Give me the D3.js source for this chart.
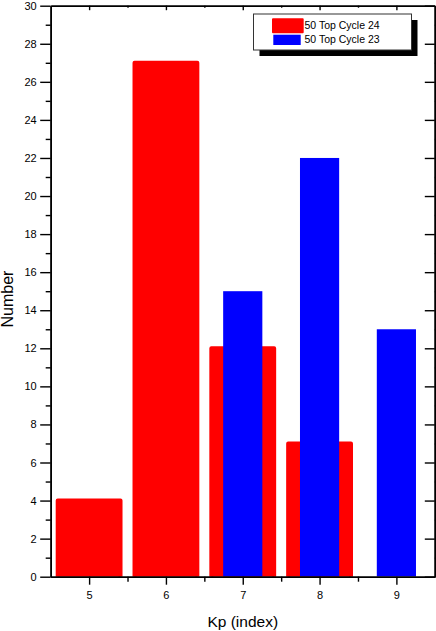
<!DOCTYPE html>
<html>
<head>
<meta charset="utf-8">
<script src="https://cdn.jsdelivr.net/npm/d3@7"></script>
<style>
  body { margin: 0; background: #fff; }
  text { font-family: "Liberation Sans", Arial, sans-serif; fill: #000; }
</style>
</head>
<body>
<svg id="chart"></svg>
<script>
// Kp index categories and counts
const kpValues = [5, 6, 7, 8, 9];
const cycle24Kp = [5, 6, 7, 8];
const cycle24Count = [4, 27, 12, 7];
const cycle23Kp = [7, 8, 9];
const cycle23Count = [15, 22, 13];
const yTicks = d3.range(0, 31, 2);
const yMinorTicks = d3.range(1, 30, 2);
const xMinorTicks = [5.5, 6.5, 7.5, 8.5];
const legendLabels = ["50 Top Cycle 24", "50 Top Cycle 23"];

const totalWidth = 436, totalHeight = 631;
const margin = { top: 5.7, right: 1.2, bottom: 54.3, left: 50.7 },
      width = totalWidth - margin.left - margin.right,
      height = totalHeight - margin.top - margin.bottom;

const svg = d3.select("#chart")
    .attr("width", totalWidth)
    .attr("height", totalHeight);

const chart = svg.append("g")
    .attr("transform", `translate(${margin.left}, ${margin.top})`);

const x = d3.scaleLinear().domain([4.5, 9.5]).range([0, width]);
const y = d3.scaleLinear().domain([0, 30]).range([height, 0]);

svg.append("defs").append("clipPath").attr("id", "plot-clip")
    .append("rect").attr("width", width).attr("height", height);

const bars = chart.append("g").attr("clip-path", "url(#plot-clip)");

// Cycle 24 (red, wide, drawn behind)
const redWidth = x(0.87) - x(0);
bars.selectAll(".bar24")
    .data(cycle24Kp.map((k, i) => [k, cycle24Count[i]]))
    .join("rect")
    .attr("class", "bar24")
    .attr("x", d => x(d[0]) - redWidth / 2 + 2)
    .attr("y", d => y(d[1]))
    .attr("width", redWidth - 4)
    .attr("height", d => y(0) - y(d[1]) + 4)
    .attr("fill", "#ff0000")
    .attr("stroke", "#ff0000")
    .attr("stroke-width", 4)
    .attr("stroke-linejoin", "round");

// Cycle 23 (blue, narrow, on top)
const blueWidth = x(0.51) - x(0);
bars.selectAll(".bar23")
    .data(cycle23Kp.map((k, i) => [k, cycle23Count[i]]))
    .join("rect")
    .attr("class", "bar23")
    .attr("x", d => x(d[0]) - blueWidth / 2)
    .attr("y", d => y(d[1]))
    .attr("width", blueWidth)
    .attr("height", d => y(0) - y(d[1]))
    .attr("fill", "#0000ff");

// Axes
function styleAxis(g) {
    g.selectAll("path").attr("stroke", "#000").attr("stroke-width", 1.6);
    g.selectAll("line").attr("stroke", "#000").attr("stroke-width", 1.4);
    g.selectAll("text").style("font-size", "11px")
        .style("font-family", '"Liberation Sans", Arial, sans-serif');
}

// left
chart.append("g")
    .call(d3.axisLeft(y).tickValues(yMinorTicks).tickSize(5).tickSizeOuter(0).tickFormat(""))
    .call(styleAxis);
chart.append("g")
    .call(d3.axisLeft(y).tickValues(yTicks).tickSize(10.5).tickSizeOuter(0).tickPadding(3.5).tickFormat(d3.format("d")))
    .call(styleAxis);

// right (inward ticks)
chart.append("g")
    .attr("transform", `translate(${width}, 0)`)
    .call(d3.axisLeft(y).tickValues(yMinorTicks).tickSize(6).tickSizeOuter(0).tickFormat(""))
    .call(g => g.selectAll("line").attr("x2", -6))
    .call(g => g.selectAll("line").attr("transform", "translate(6,0)"))
    .call(styleAxis);
chart.append("g")
    .attr("transform", `translate(${width}, 0)`)
    .call(d3.axisRight(y).tickValues(yTicks).tickSize(-10).tickSizeOuter(0).tickFormat(""))
    .call(styleAxis);

// bottom
chart.append("g")
    .attr("transform", `translate(0, ${height})`)
    .call(d3.axisBottom(x).tickValues(xMinorTicks).tickSize(5).tickSizeOuter(0).tickFormat(""))
    .call(styleAxis);
chart.append("g")
    .attr("transform", `translate(0, ${height})`)
    .call(d3.axisBottom(x).tickValues(kpValues).tickSize(8).tickSizeOuter(0).tickPadding(7).tickFormat(d3.format("d")))
    .call(styleAxis);

// top (inward ticks)
chart.append("g")
    .call(d3.axisTop(x).tickValues(xMinorTicks).tickSize(-2).tickSizeOuter(0).tickFormat(""))
    .call(styleAxis);
chart.append("g")
    .call(d3.axisTop(x).tickValues(kpValues).tickSize(-4.5).tickSizeOuter(0).tickFormat(""))
    .call(styleAxis);

// Axis labels
chart.append("text")
    .attr("x", width / 2)
    .attr("y", height + 50.5)
    .attr("text-anchor", "middle")
    .style("font-size", "15.5px")
    .text("Kp (index)");

chart.append("text")
    .attr("transform", `translate(${13.3 - margin.left}, ${299 - margin.top}) rotate(-90)`)
    .attr("text-anchor", "middle")
    .style("font-size", "16px")
    .text("Number");

// Legend with drop shadow
const legend = svg.append("g").attr("transform", "translate(253.5, 14)");
legend.append("rect")
    .attr("x", 6).attr("y", 6)
    .attr("width", 158).attr("height", 36)
    .attr("fill", "#000");
legend.append("rect")
    .attr("width", 158).attr("height", 36)
    .attr("fill", "#fff")
    .attr("stroke", "#333")
    .attr("stroke-width", 1);

legend.append("rect")
    .attr("x", 19.5).attr("y", 5.3)
    .attr("width", 29.7).attr("height", 13)
    .attr("fill", "#ff0000")
    .attr("stroke", "#ff0000")
    .attr("stroke-width", 2)
    .attr("stroke-linejoin", "round");
legend.append("rect")
    .attr("x", 19.8).attr("y", 20.7)
    .attr("width", 27.4).attr("height", 10.3)
    .attr("fill", "#0000ff");

legend.selectAll(".leg-text")
    .data(legendLabels)
    .join("text")
    .attr("class", "leg-text")
    .attr("x", 51)
    .attr("y", (d, i) => 15.2 + i * 14.2)
    .style("font-size", "10.5px")
    .text(d => d);
</script>
</body>
</html>
